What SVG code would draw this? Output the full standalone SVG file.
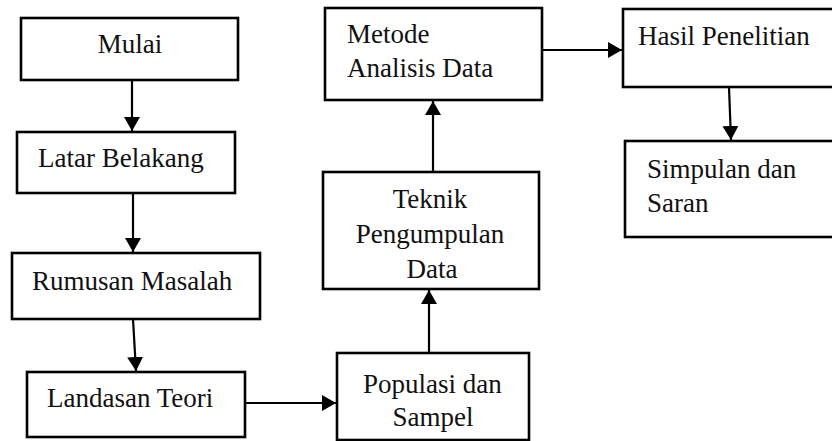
<svg xmlns="http://www.w3.org/2000/svg" width="832" height="441" viewBox="0 0 832 441">
<style>
.box{fill:#fff;stroke:#000;stroke-width:2.6}
text{font-family:'Liberation Serif','Times New Roman','DejaVu Serif',serif;font-size:27px;fill:#111}
.c{text-anchor:middle}
.con{stroke:#000;stroke-width:2.2;fill:none;marker-end:url(#ah)}
</style>
<defs>
<marker id="ah" markerUnits="userSpaceOnUse" markerWidth="14" markerHeight="16" viewBox="0 0 14 16" refX="14" refY="8" orient="auto">
<path d="M0,0 L14,8 L0,16 z" fill="#000"/>
</marker>
</defs>
<rect width="832" height="441" fill="#fff"/>
<g id="connectors">
<line class="con" x1="132" y1="80" x2="132" y2="131"/>
<line class="con" x1="133" y1="193" x2="133" y2="252"/>
<line class="con" x1="133" y1="319" x2="136" y2="371"/>
<line class="con" x1="245" y1="403" x2="336" y2="403"/>
<line class="con" x1="429" y1="353" x2="429" y2="290"/>
<line class="con" x1="433" y1="172" x2="433" y2="101"/>
<line class="con" x1="542" y1="50" x2="622" y2="50"/>
<line class="con" x1="729" y1="87" x2="731" y2="140"/>
</g>
<g id="mulai"><rect class="box" x="21" y="18" width="217" height="62"/><text font-family="Liberation Serif, serif" class="c" x="130" y="53">Mulai</text></g>
<g id="latar"><rect class="box" x="17" y="132" width="218" height="61"/><text x="38" y="167">Latar Belakang</text></g>
<g id="rumusan"><rect class="box" x="12" y="253" width="248" height="66"/><text x="32" y="290">Rumusan Masalah</text></g>
<g id="landasan"><rect class="box" x="27" y="372" width="218" height="65"/><text x="47" y="407">Landasan Teori</text></g>
<g id="populasi"><rect class="box" x="337" y="353" width="192" height="87"/><text x="363" y="393">Populasi dan</text><text class="c" x="433" y="426">Sampel</text></g>
<g id="teknik"><rect class="box" x="323" y="172" width="216" height="117"/><text class="c" x="430" y="208">Teknik</text><text class="c" x="430" y="243">Pengumpulan</text><text class="c" x="432" y="278">Data</text></g>
<g id="metode"><rect class="box" x="325" y="8" width="217" height="92"/><text x="347" y="43">Metode</text><text x="347" y="77">Analisis Data</text></g>
<g id="hasil"><rect class="box" x="623" y="9" width="220" height="78"/><text x="638" y="45">Hasil Penelitian</text></g>
<g id="simpulan"><rect class="box" x="625" y="141" width="220" height="96"/><text x="647" y="178">Simpulan dan</text><text x="647" y="212">Saran</text></g>
</svg>
